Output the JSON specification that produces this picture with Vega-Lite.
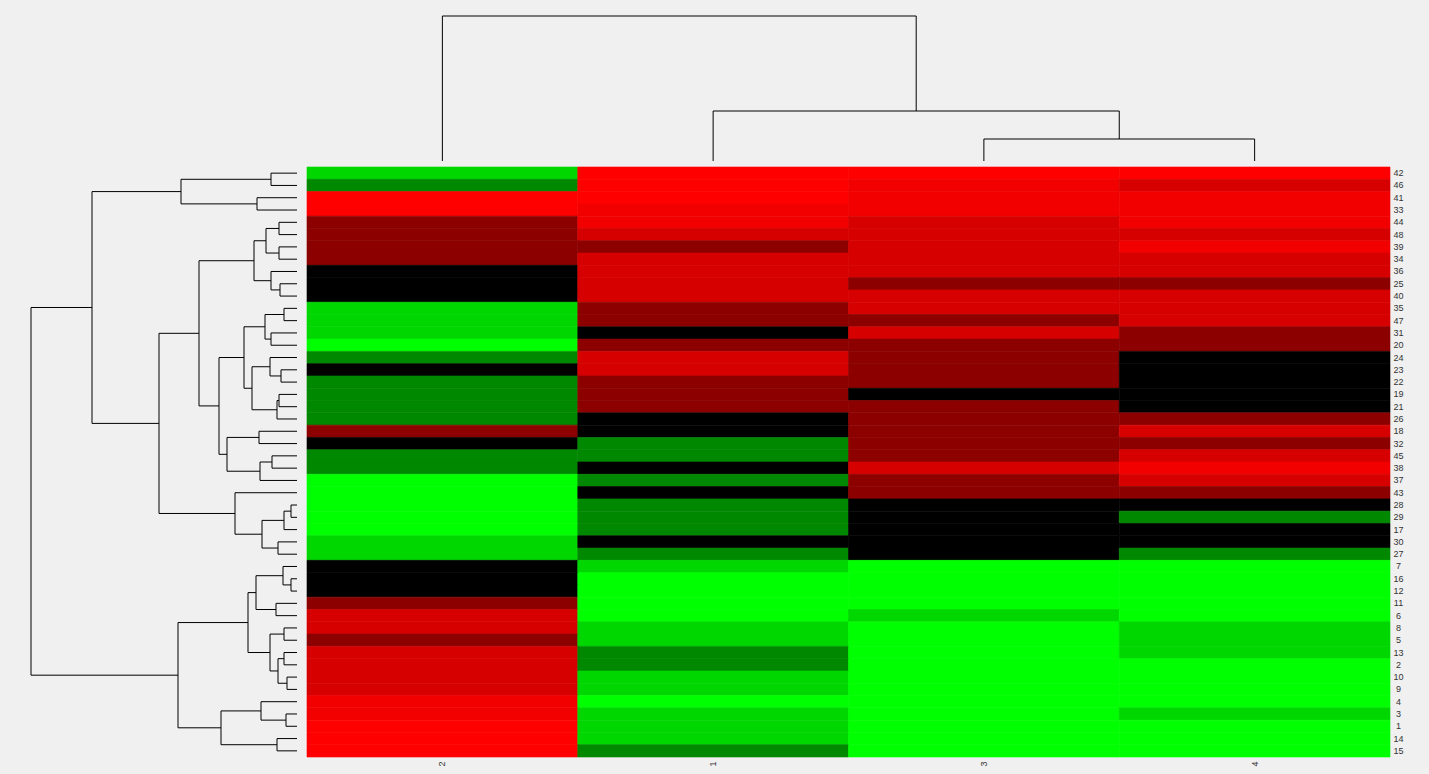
{
  "$schema": "https://vega.github.io/schema/vega-lite/v6.json",
  "background": "#f0f0f0",
  "padding": {"left": 30, "top": 15, "right": 26, "bottom": 8},
  "columns": 2,
  "spacing": {"row": 6, "column": 10},
  "bounds": "flush",
  "config": {"view": {"stroke": null}, "font": "Liberation Sans"},
  "concat": [
    {
      "width": 266, "height": 145,
      "data": {"values": []},
      "mark": "point",
      "encoding": {}
    },
    {
      "width": 1083, "height": 145,
      "data": {"values": [
        {"p1": 2.5, "h1": 0, "p2": 3.5, "h2": 0, "h": 22},
        {"p1": 1.5, "h1": 0, "p2": 3.0, "h2": 22, "h": 50},
        {"p1": 0.5, "h1": 0, "p2": 2.25, "h2": 50, "h": 145}
      ]},
      "layer": [
        {
          "mark": {"type": "rule", "color": "#000000", "strokeWidth": 1},
          "encoding": {
            "x": {"field": "p1", "type": "quantitative", "scale": {"domain": [0, 4], "nice": false, "zero": false}, "axis": null},
            "y": {"field": "h1", "type": "quantitative", "scale": {"domain": [0, 145], "nice": false}, "axis": null},
            "y2": {"field": "h"}
          }
        },
        {
          "mark": {"type": "rule", "color": "#000000", "strokeWidth": 1},
          "encoding": {
            "x": {"field": "p2", "type": "quantitative", "scale": {"domain": [0, 4], "nice": false, "zero": false}, "axis": null},
            "y": {"field": "h2", "type": "quantitative", "scale": {"domain": [0, 145], "nice": false}, "axis": null},
            "y2": {"field": "h"}
          }
        },
        {
          "mark": {"type": "rule", "color": "#000000", "strokeWidth": 1},
          "encoding": {
            "x": {"field": "p1", "type": "quantitative", "scale": {"domain": [0, 4], "nice": false, "zero": false}, "axis": null},
            "x2": {"field": "p2"},
            "y": {"field": "h", "type": "quantitative", "scale": {"domain": [0, 145], "nice": false}, "axis": null}
          }
        }
      ]
    },
    {
      "width": 266, "height": 590,
      "data": {"values": [
        {"p1": 0.5, "h1": 0, "p2": 1.5, "h2": 0, "h": 26},
        {"p1": 2.5, "h1": 0, "p2": 3.5, "h2": 0, "h": 40},
        {"p1": 1.0, "h1": 26, "p2": 3.0, "h2": 40, "h": 116},
        {"p1": 4.5, "h1": 0, "p2": 5.5, "h2": 0, "h": 18},
        {"p1": 6.5, "h1": 0, "p2": 7.5, "h2": 0, "h": 18},
        {"p1": 5.0, "h1": 18, "p2": 7.0, "h2": 18, "h": 31},
        {"p1": 9.5, "h1": 0, "p2": 10.5, "h2": 0, "h": 17},
        {"p1": 8.5, "h1": 0, "p2": 10.0, "h2": 17, "h": 26},
        {"p1": 6.0, "h1": 31, "p2": 9.25, "h2": 26, "h": 43},
        {"p1": 11.5, "h1": 0, "p2": 12.5, "h2": 0, "h": 13},
        {"p1": 13.5, "h1": 0, "p2": 14.5, "h2": 0, "h": 26},
        {"p1": 12.0, "h1": 13, "p2": 14.0, "h2": 26, "h": 32},
        {"p1": 16.5, "h1": 0, "p2": 17.5, "h2": 0, "h": 16},
        {"p1": 15.5, "h1": 0, "p2": 17.0, "h2": 16, "h": 27},
        {"p1": 18.5, "h1": 0, "p2": 19.5, "h2": 0, "h": 18},
        {"p1": 19.0, "h1": 18, "p2": 20.5, "h2": 0, "h": 20},
        {"p1": 16.25, "h1": 27, "p2": 19.75, "h2": 20, "h": 45},
        {"p1": 13.0, "h1": 32, "p2": 18.0, "h2": 45, "h": 53},
        {"p1": 21.5, "h1": 0, "p2": 22.5, "h2": 0, "h": 38},
        {"p1": 23.5, "h1": 0, "p2": 24.5, "h2": 0, "h": 25},
        {"p1": 24.0, "h1": 25, "p2": 25.5, "h2": 0, "h": 37},
        {"p1": 22.0, "h1": 38, "p2": 24.75, "h2": 37, "h": 70},
        {"p1": 15.5, "h1": 53, "p2": 23.375, "h2": 70, "h": 78},
        {"p1": 7.625, "h1": 43, "p2": 19.4375, "h2": 78, "h": 98},
        {"p1": 27.5, "h1": 0, "p2": 28.5, "h2": 0, "h": 6},
        {"p1": 28.0, "h1": 6, "p2": 29.5, "h2": 0, "h": 13},
        {"p1": 30.5, "h1": 0, "p2": 31.5, "h2": 0, "h": 19},
        {"p1": 28.75, "h1": 13, "p2": 31.0, "h2": 19, "h": 35},
        {"p1": 26.5, "h1": 0, "p2": 29.875, "h2": 35, "h": 62},
        {"p1": 13.53125, "h1": 98, "p2": 28.1875, "h2": 62, "h": 138},
        {"p1": 2.0, "h1": 116, "p2": 20.859375, "h2": 138, "h": 205},
        {"p1": 33.5, "h1": 0, "p2": 34.5, "h2": 0, "h": 6},
        {"p1": 32.5, "h1": 0, "p2": 34.0, "h2": 6, "h": 14},
        {"p1": 35.5, "h1": 0, "p2": 36.5, "h2": 0, "h": 21},
        {"p1": 33.25, "h1": 14, "p2": 36.0, "h2": 21, "h": 41},
        {"p1": 37.5, "h1": 0, "p2": 38.5, "h2": 0, "h": 13},
        {"p1": 39.5, "h1": 0, "p2": 40.5, "h2": 0, "h": 13},
        {"p1": 41.5, "h1": 0, "p2": 42.5, "h2": 0, "h": 10},
        {"p1": 40.0, "h1": 13, "p2": 42.0, "h2": 10, "h": 19},
        {"p1": 38.0, "h1": 13, "p2": 41.0, "h2": 19, "h": 27},
        {"p1": 34.625, "h1": 41, "p2": 39.5, "h2": 27, "h": 49},
        {"p1": 44.5, "h1": 0, "p2": 45.5, "h2": 0, "h": 11},
        {"p1": 43.5, "h1": 0, "p2": 45.0, "h2": 11, "h": 36},
        {"p1": 46.5, "h1": 0, "p2": 47.5, "h2": 0, "h": 20},
        {"p1": 44.25, "h1": 36, "p2": 47.0, "h2": 20, "h": 76},
        {"p1": 37.0625, "h1": 49, "p2": 45.625, "h2": 76, "h": 119},
        {"p1": 11.4296875, "h1": 205, "p2": 41.34375, "h2": 119, "h": 266}
      ]},
      "layer": [
        {
          "mark": {"type": "rule", "color": "#000000", "strokeWidth": 1},
          "encoding": {
            "x": {"field": "h", "type": "quantitative", "scale": {"domain": [0, 266], "reverse": true, "nice": false, "zero": false}, "axis": null},
            "y": {"field": "p1", "type": "quantitative", "scale": {"domain": [0, 48], "reverse": true, "nice": false, "zero": false}, "axis": null},
            "y2": {"field": "p2"}
          }
        },
        {
          "mark": {"type": "rule", "color": "#000000", "strokeWidth": 1},
          "encoding": {
            "x": {"field": "h1", "type": "quantitative", "scale": {"domain": [0, 266], "reverse": true, "nice": false, "zero": false}, "axis": null},
            "x2": {"field": "h"},
            "y": {"field": "p1", "type": "quantitative", "scale": {"domain": [0, 48], "reverse": true, "nice": false, "zero": false}, "axis": null}
          }
        },
        {
          "mark": {"type": "rule", "color": "#000000", "strokeWidth": 1},
          "encoding": {
            "x": {"field": "h2", "type": "quantitative", "scale": {"domain": [0, 266], "reverse": true, "nice": false, "zero": false}, "axis": null},
            "x2": {"field": "h"},
            "y": {"field": "p2", "type": "quantitative", "scale": {"domain": [0, 48], "reverse": true, "nice": false, "zero": false}, "axis": null}
          }
        }
      ]
    },
    {
      "width": 1083, "height": 590,
      "data": {"values": [
        {"r":"42","c":"2","v":-2},{"r":"42","c":"1","v":4},{"r":"42","c":"3","v":4},{"r":"42","c":"4","v":4},
        {"r":"46","c":"2","v":-1},{"r":"46","c":"1","v":4},{"r":"46","c":"3","v":3},{"r":"46","c":"4","v":2},
        {"r":"41","c":"2","v":4},{"r":"41","c":"1","v":4},{"r":"41","c":"3","v":3},{"r":"41","c":"4","v":3},
        {"r":"33","c":"2","v":4},{"r":"33","c":"1","v":3},{"r":"33","c":"3","v":3},{"r":"33","c":"4","v":3},
        {"r":"44","c":"2","v":1},{"r":"44","c":"1","v":3},{"r":"44","c":"3","v":2},{"r":"44","c":"4","v":3},
        {"r":"48","c":"2","v":1},{"r":"48","c":"1","v":2},{"r":"48","c":"3","v":2},{"r":"48","c":"4","v":2},
        {"r":"39","c":"2","v":1},{"r":"39","c":"1","v":1},{"r":"39","c":"3","v":2},{"r":"39","c":"4","v":3},
        {"r":"34","c":"2","v":1},{"r":"34","c":"1","v":2},{"r":"34","c":"3","v":2},{"r":"34","c":"4","v":2},
        {"r":"36","c":"2","v":0},{"r":"36","c":"1","v":2},{"r":"36","c":"3","v":2},{"r":"36","c":"4","v":2},
        {"r":"25","c":"2","v":0},{"r":"25","c":"1","v":2},{"r":"25","c":"3","v":1},{"r":"25","c":"4","v":1},
        {"r":"40","c":"2","v":0},{"r":"40","c":"1","v":2},{"r":"40","c":"3","v":2},{"r":"40","c":"4","v":2},
        {"r":"35","c":"2","v":-2},{"r":"35","c":"1","v":1},{"r":"35","c":"3","v":2},{"r":"35","c":"4","v":2},
        {"r":"47","c":"2","v":-2},{"r":"47","c":"1","v":1},{"r":"47","c":"3","v":1},{"r":"47","c":"4","v":2},
        {"r":"31","c":"2","v":-2},{"r":"31","c":"1","v":0},{"r":"31","c":"3","v":2},{"r":"31","c":"4","v":1},
        {"r":"20","c":"2","v":-3},{"r":"20","c":"1","v":1},{"r":"20","c":"3","v":1},{"r":"20","c":"4","v":1},
        {"r":"24","c":"2","v":-1},{"r":"24","c":"1","v":2},{"r":"24","c":"3","v":1},{"r":"24","c":"4","v":0},
        {"r":"23","c":"2","v":0},{"r":"23","c":"1","v":2},{"r":"23","c":"3","v":1},{"r":"23","c":"4","v":0},
        {"r":"22","c":"2","v":-1},{"r":"22","c":"1","v":1},{"r":"22","c":"3","v":1},{"r":"22","c":"4","v":0},
        {"r":"19","c":"2","v":-1},{"r":"19","c":"1","v":1},{"r":"19","c":"3","v":0},{"r":"19","c":"4","v":0},
        {"r":"21","c":"2","v":-1},{"r":"21","c":"1","v":1},{"r":"21","c":"3","v":1},{"r":"21","c":"4","v":0},
        {"r":"26","c":"2","v":-1},{"r":"26","c":"1","v":0},{"r":"26","c":"3","v":1},{"r":"26","c":"4","v":1},
        {"r":"18","c":"2","v":1},{"r":"18","c":"1","v":0},{"r":"18","c":"3","v":1},{"r":"18","c":"4","v":2},
        {"r":"32","c":"2","v":0},{"r":"32","c":"1","v":-1},{"r":"32","c":"3","v":1},{"r":"32","c":"4","v":1},
        {"r":"45","c":"2","v":-1},{"r":"45","c":"1","v":-1},{"r":"45","c":"3","v":1},{"r":"45","c":"4","v":2},
        {"r":"38","c":"2","v":-1},{"r":"38","c":"1","v":0},{"r":"38","c":"3","v":2},{"r":"38","c":"4","v":3},
        {"r":"37","c":"2","v":-3},{"r":"37","c":"1","v":-1},{"r":"37","c":"3","v":1},{"r":"37","c":"4","v":2},
        {"r":"43","c":"2","v":-3},{"r":"43","c":"1","v":0},{"r":"43","c":"3","v":1},{"r":"43","c":"4","v":1},
        {"r":"28","c":"2","v":-3},{"r":"28","c":"1","v":-1},{"r":"28","c":"3","v":0},{"r":"28","c":"4","v":0},
        {"r":"29","c":"2","v":-3},{"r":"29","c":"1","v":-1},{"r":"29","c":"3","v":0},{"r":"29","c":"4","v":-1},
        {"r":"17","c":"2","v":-3},{"r":"17","c":"1","v":-1},{"r":"17","c":"3","v":0},{"r":"17","c":"4","v":0},
        {"r":"30","c":"2","v":-2},{"r":"30","c":"1","v":0},{"r":"30","c":"3","v":0},{"r":"30","c":"4","v":0},
        {"r":"27","c":"2","v":-2},{"r":"27","c":"1","v":-1},{"r":"27","c":"3","v":0},{"r":"27","c":"4","v":-1},
        {"r":"7","c":"2","v":0},{"r":"7","c":"1","v":-2},{"r":"7","c":"3","v":-3},{"r":"7","c":"4","v":-3},
        {"r":"16","c":"2","v":0},{"r":"16","c":"1","v":-3},{"r":"16","c":"3","v":-3},{"r":"16","c":"4","v":-3},
        {"r":"12","c":"2","v":0},{"r":"12","c":"1","v":-3},{"r":"12","c":"3","v":-3},{"r":"12","c":"4","v":-3},
        {"r":"11","c":"2","v":1},{"r":"11","c":"1","v":-3},{"r":"11","c":"3","v":-3},{"r":"11","c":"4","v":-3},
        {"r":"6","c":"2","v":2},{"r":"6","c":"1","v":-3},{"r":"6","c":"3","v":-2},{"r":"6","c":"4","v":-3},
        {"r":"8","c":"2","v":2},{"r":"8","c":"1","v":-2},{"r":"8","c":"3","v":-3},{"r":"8","c":"4","v":-2},
        {"r":"5","c":"2","v":1},{"r":"5","c":"1","v":-2},{"r":"5","c":"3","v":-3},{"r":"5","c":"4","v":-2},
        {"r":"13","c":"2","v":2},{"r":"13","c":"1","v":-1},{"r":"13","c":"3","v":-3},{"r":"13","c":"4","v":-2},
        {"r":"2","c":"2","v":2},{"r":"2","c":"1","v":-1},{"r":"2","c":"3","v":-3},{"r":"2","c":"4","v":-3},
        {"r":"10","c":"2","v":2},{"r":"10","c":"1","v":-2},{"r":"10","c":"3","v":-3},{"r":"10","c":"4","v":-3},
        {"r":"9","c":"2","v":2},{"r":"9","c":"1","v":-2},{"r":"9","c":"3","v":-3},{"r":"9","c":"4","v":-3},
        {"r":"4","c":"2","v":3},{"r":"4","c":"1","v":-3},{"r":"4","c":"3","v":-3},{"r":"4","c":"4","v":-3},
        {"r":"3","c":"2","v":3},{"r":"3","c":"1","v":-2},{"r":"3","c":"3","v":-3},{"r":"3","c":"4","v":-2},
        {"r":"1","c":"2","v":4},{"r":"1","c":"1","v":-2},{"r":"1","c":"3","v":-3},{"r":"1","c":"4","v":-3},
        {"r":"14","c":"2","v":4},{"r":"14","c":"1","v":-2},{"r":"14","c":"3","v":-3},{"r":"14","c":"4","v":-3},
        {"r":"15","c":"2","v":4},{"r":"15","c":"1","v":-1},{"r":"15","c":"3","v":-3},{"r":"15","c":"4","v":-3}
      ]},
      "mark": {"type": "rect", "strokeWidth": 0.6},
      "encoding": {
        "x": {
          "field": "c", "type": "nominal", "sort": ["2", "1", "3", "4"],
          "scale": {"paddingInner": 0, "paddingOuter": 0},
          "axis": {"orient": "bottom", "title": null, "ticks": false, "domain": false, "labelAngle": -90, "labelFontSize": 9, "labelColor": "#333333", "labelPadding": 4, "labelFont": "Liberation Sans"}
        },
        "y": {
          "field": "r", "type": "nominal",
          "sort": ["42","46","41","33","44","48","39","34","36","25","40","35","47","31","20","24","23","22","19","21","26","18","32","45","38","37","43","28","29","17","30","27","7","16","12","11","6","8","5","13","2","10","9","4","3","1","14","15"],
          "scale": {"paddingInner": 0, "paddingOuter": 0},
          "axis": {"orient": "right", "title": null, "ticks": false, "domain": false, "labelAlign": "center", "labelPadding": 8, "labelFontSize": 9, "labelColor": "#333333", "labelFont": "Liberation Sans"}
        },
        "color": {
          "field": "v", "type": "ordinal",
          "scale": {"domain": [-3, -2, -1, 0, 1, 2, 3, 4], "range": ["#00ff00", "#00d600", "#008800", "#000000", "#8c0000", "#d60000", "#f20000", "#ff0000"]},
          "legend": null
        },
        "stroke": {
          "field": "v", "type": "ordinal",
          "scale": {"domain": [-3, -2, -1, 0, 1, 2, 3, 4], "range": ["#00ff00", "#00d600", "#008800", "#000000", "#8c0000", "#d60000", "#f20000", "#ff0000"]},
          "legend": null
        }
      }
    }
  ]
}
